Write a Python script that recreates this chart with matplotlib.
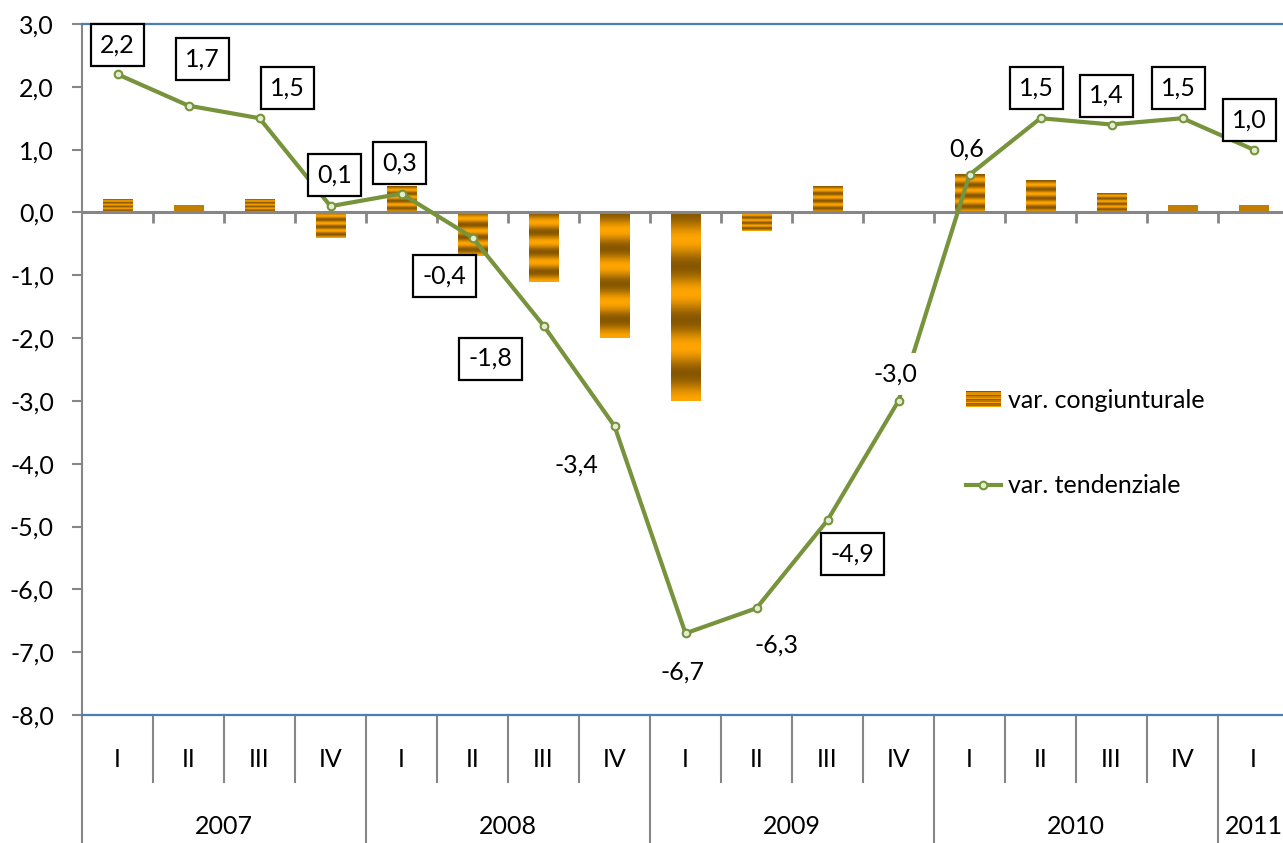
import matplotlib.pyplot as plt
import matplotlib.transforms as mtransforms
import numpy as np
from matplotlib.legend_handler import HandlerBase
from matplotlib.patches import Rectangle
from matplotlib.lines import Line2D
from matplotlib.colors import to_rgb

plt.rcParams['font.family'] = ['Lato', 'DejaVu Sans']

# data
quarters = ['I', 'II', 'III', 'IV'] * 4 + ['I']
years = ['2007', '2008', '2009', '2010', '2011']
year_of = [0] * 4 + [1] * 4 + [2] * 4 + [3] * 4 + [4]
congiunturale = [0.2, 0.1, 0.2, -0.4, 0.4, -0.7, -1.1, -2.0, -3.0, -0.3, 0.4, 0.0,
                 0.6, 0.5, 0.3, 0.1, 0.1]
tendenziale = [2.2, 1.7, 1.5, 0.1, 0.3, -0.4, -1.8, -3.4, -6.7, -6.3, -4.9, -3.0,
               0.6, 1.5, 1.4, 1.5, 1.0]
yticks = [3, 2, 1, 0, -1, -2, -3, -4, -5, -6, -7, -8]

ORANGE = np.array(to_rgb('#FFA500'))
DARK = np.array(to_rgb('#875700'))
GREEN = '#77933C'
GRAY = '#868686'
BLUE = '#4A7EBB'
FS = 18


def stripes(n, cycles):
    t = np.linspace(0, 1, n)
    m = 0.5 + 0.5 * np.cos(2 * np.pi * cycles * t)
    return ((1 - m)[:, None] * ORANGE + m[:, None] * DARK).reshape(n, 1, 3)


class StripeHandler(HandlerBase):
    def create_artists(self, legend, orig_handle, xdescent, ydescent,
                       width, height, fontsize, trans):
        cols = stripes(12, 3.5)[:, 0, :]
        arts = []
        for k in range(12):
            r = Rectangle((-xdescent, -ydescent + height * (11 - k) / 12), width, height / 12,
                          facecolor=cols[k], edgecolor='none', transform=trans)
            arts.append(r)
        return arts


fig = plt.figure(figsize=(12.83, 8.43), dpi=100)
ax = fig.add_axes([82 / 1283, 128 / 843, 1207 / 1283, 691 / 843])

x = np.arange(len(quarters))
bw = 0.41

# striped bars
for xi, v in zip(x, congiunturale):
    if v == 0:
        continue
    lo, hi = min(0, v), max(0, v)
    ax.imshow(stripes(200, 3.5), extent=(xi - bw / 2, xi + bw / 2, lo, hi),
              aspect='auto', interpolation='bilinear', zorder=1)

ax.axhline(0, color=GRAY, lw=2.2, zorder=1.5)
ax.vlines(x[:-1] + 0.5, -0.16, 0, color=GRAY, lw=2, zorder=1.5)

ax.plot(x, tendenziale, color=GREEN, lw=3, marker='o', ms=5.5, mfc='#e4ecd2',
        mec=GREEN, mew=1.5, zorder=2)

# data labels
boxed = [True] * 7 + [False, False, False, True, False, False, True, True, True, True]
opaque = [True] * 12 + [False] + [True] * 4
offsets = [(0, -29), (14, -47), (28, -30), (4, -31), (-2, -31), (-28, 38), (-53, 33),
           (-38, 39), (-3, 39), (20, 37), (25, 34), (-3, -27), (-3, -26),
           (-4, -30), (-5, -29), (-4, -30), (-4, -30)]
for xi, v, b, op, (dx, dy) in zip(x, tendenziale, boxed, opaque, offsets):
    bbox = dict(boxstyle='square,pad=0.38', fc='white' if op else 'none',
                ec='black' if b else 'none', lw=1.6)
    ax.annotate(f"{v:.1f}".replace('.', ','), (xi, v), xytext=(dx, -dy),
                textcoords='offset pixels', ha='center', va='center',
                fontsize=FS, bbox=bbox, zorder=3)

ax.set_xlim(-0.5, 16.5)
ax.set_ylim(-8, 3)
ax.set_yticks(yticks)
ax.set_yticklabels([f"{v:.1f}".replace('.', ',') for v in yticks])
ax.tick_params(axis='y', length=7.2, width=1.5, color=GRAY, pad=13, labelsize=FS)
ax.set_xticks([])

ax.spines['right'].set_visible(False)
ax.spines['left'].set_color(GRAY)
ax.spines['left'].set_linewidth(1.5)
for s in ['top', 'bottom']:
    ax.spines[s].set_color(BLUE)
    ax.spines[s].set_linewidth(1.6)

# category table below the axis
tr = mtransforms.blended_transform_factory(ax.transData, ax.transAxes)
ax.plot([-0.5, -0.5], [0, -0.19], color=GRAY, lw=1.5, transform=tr, clip_on=False)
for bnd in x[:-1] + 0.5:
    low = -0.19 if (bnd + 0.5) % 4 == 0 else -0.097
    ax.plot([bnd, bnd], [0, low], color=GRAY, lw=1.5, transform=tr, clip_on=False)
for xi, q in zip(x, quarters):
    ax.text(xi, -0.064, q, transform=tr, ha='center', va='center', fontsize=FS)
for k, yr in enumerate(years):
    idx = [i for i, y in enumerate(year_of) if y == k]
    ax.text(np.mean(idx), -0.162, yr, transform=tr, ha='center', va='center', fontsize=FS)

# legend
h_bar = Rectangle((0, 0), 1, 1)
h_line = Line2D([], [], color=GREEN, lw=3, marker='o', ms=5.5, mfc='#e4ecd2', mec=GREEN, mew=1.5)
ax.legend([h_bar, h_line], ['var. congiunturale', 'var. tendenziale'],
          handler_map={Rectangle: StripeHandler()}, loc='center left',
          bbox_to_anchor=((953 - 82) / 1207, 1 - (443 - 24) / 691),
          frameon=False, fontsize=FS, borderpad=0, labelspacing=2.5,
          handlelength=1.4, handleheight=0.6, handletextpad=0.3)

fig.savefig('out.png', dpi=100)
